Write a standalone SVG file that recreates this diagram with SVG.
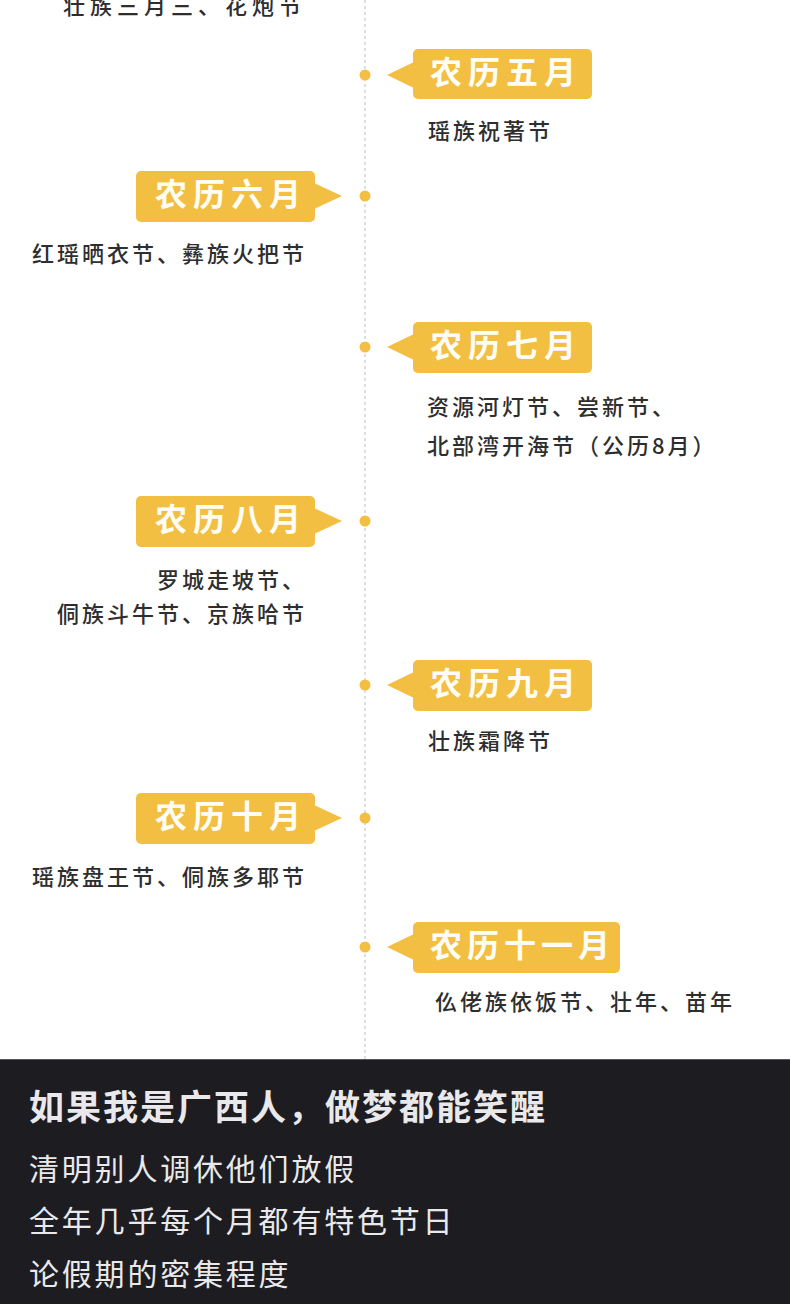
<svg xmlns="http://www.w3.org/2000/svg" width="790" height="1304" viewBox="0 0 790 1304">
<style>
.tag{fill:#F2BF42}
.tagt{font-family:"Noto Sans CJK SC",sans-serif;font-weight:700;font-size:32px;fill:#FFFDF4;letter-spacing:6px}
.desc{font-family:"Noto Sans CJK SC",sans-serif;font-weight:500;font-size:22px;fill:#2E2E2E;letter-spacing:3px}
.dot{fill:#F2BF42}
.ft{font-family:"Noto Sans CJK SC",sans-serif;fill:#E9E9EB}
</style>
<rect width="790" height="1304" fill="#FFFFFF"/>
<g id="connectors">
<line x1="365" y1="0" x2="365" y2="1059" stroke="#BDBDBD" stroke-width="1" stroke-dasharray="3 3"/>
</g>
<g id="top-text"><text class="desc" x="63" y="14" style="letter-spacing:5px">壮族三月三、花炮节</text></g>
<g id="m5">
<circle class="dot" cx="365" cy="75" r="5.5"/>
<rect class="tag" x="413" y="49" width="179" height="50" rx="5"/>
<polygon class="tag" points="414,62 387,75 414,88"/>
<text class="tagt" x="430" y="84">农历五月</text>
<text class="desc" x="428" y="139">瑶族祝著节</text>
</g>
<g id="m6">
<circle class="dot" cx="365" cy="196" r="5.5"/>
<rect class="tag" x="136" y="171" width="179" height="51" rx="5"/>
<polygon class="tag" points="314,183 342,196 314,209"/>
<text class="tagt" x="155" y="206">农历六月</text>
<text class="desc" x="32" y="262">红瑶晒衣节、彝族火把节</text>
</g>
<g id="m7">
<circle class="dot" cx="365" cy="347" r="5.5"/>
<rect class="tag" x="413" y="322" width="179" height="51" rx="5"/>
<polygon class="tag" points="414,334 387,347 414,360"/>
<text class="tagt" x="430" y="357">农历七月</text>
<text class="desc" x="427" y="415">资源河灯节、尝新节、</text>
<text class="desc" x="427" y="454">北部湾开海节（公历8月）</text>
</g>
<g id="m8">
<circle class="dot" cx="365" cy="521" r="5.5"/>
<rect class="tag" x="136" y="496" width="179" height="51" rx="5"/>
<polygon class="tag" points="314,508 342,521 314,534"/>
<text class="tagt" x="155" y="531">农历八月</text>
<text class="desc" x="157" y="588">罗城走坡节、</text>
<text class="desc" x="57" y="622">侗族斗牛节、京族哈节</text>
</g>
<g id="m9">
<circle class="dot" cx="365" cy="685" r="5.5"/>
<rect class="tag" x="413" y="660" width="179" height="51" rx="5"/>
<polygon class="tag" points="414,672 387,685 414,698"/>
<text class="tagt" x="430" y="695">农历九月</text>
<text class="desc" x="428" y="749">壮族霜降节</text>
</g>
<g id="m10">
<circle class="dot" cx="365" cy="818" r="5.5"/>
<rect class="tag" x="136" y="793" width="179" height="51" rx="5"/>
<polygon class="tag" points="314,805 342,818 314,831"/>
<text class="tagt" x="155" y="828">农历十月</text>
<text class="desc" x="32" y="885">瑶族盘王节、侗族多耶节</text>
</g>
<g id="m11">
<circle class="dot" cx="365" cy="947" r="5.5"/>
<rect class="tag" x="413" y="922" width="207" height="51" rx="5"/>
<polygon class="tag" points="414,934 387,947 414,960"/>
<text class="tagt" x="430" y="957" style="letter-spacing:5px">农历十一月</text>
<text class="desc" x="435" y="1010">仫佬族依饭节、壮年、苗年</text>
</g>
<g id="footer">
<rect x="0" y="1059" width="790" height="245" fill="#1D1C21"/>
<line x1="0" y1="1059.5" x2="790" y2="1059.5" stroke="#55545A" stroke-width="1"/>
<text class="ft" x="29" y="1120" font-size="35" font-weight="700" letter-spacing="2">如果我是广西人，做梦都能笑醒</text>
<text class="ft" x="29" y="1180" font-size="30" letter-spacing="2.8">清明别人调休他们放假</text>
<text class="ft" x="29" y="1232" font-size="30" letter-spacing="2.8">全年几乎每个月都有特色节日</text>
<text class="ft" x="29" y="1285" font-size="30" letter-spacing="2.8">论假期的密集程度</text>
</g>
</svg>
